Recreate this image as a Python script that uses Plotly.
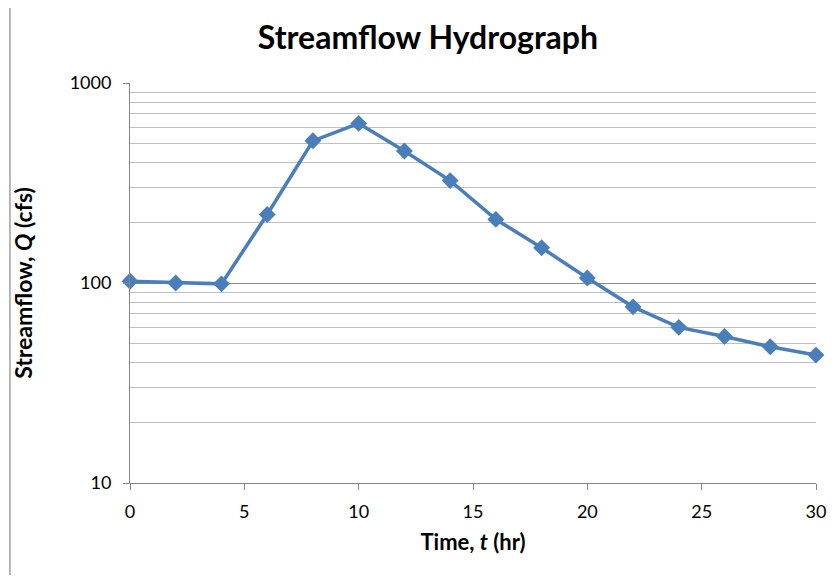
import plotly.graph_objects as go

time_hr = [0, 2, 4, 6, 8, 10, 12, 14, 16, 18, 20, 22, 24, 26, 28, 30]
flow_cfs = [102, 100, 99, 220, 514, 628, 457, 325, 208, 150, 106, 76, 60, 54, 48, 43.6]

x_ticks = [0, 5, 10, 15, 20, 25, 30]
y_ticks = [10, 100, 1000]

fig = go.Figure()
fig.add_trace(go.Scatter(
    x=time_hr, y=flow_cfs, mode="lines+markers",
    line=dict(color="#4A7EBB", width=3.5),
    marker=dict(symbol="diamond", size=13, color="#4A7EBB"),
    showlegend=False, cliponaxis=False,
))

font_family = "Lato, 'Open Sans', sans-serif"
fig.update_layout(
    width=830, height=571,
    margin=dict(l=122, r=22, t=75, b=96),
    paper_bgcolor="white", plot_bgcolor="white",
    font=dict(family=font_family, color="#000000"),
    title=dict(text="<b>Streamflow Hydrograph</b>", x=0.506, xanchor="center",
               y=0.947, yanchor="middle", font=dict(size=32, color="#000000")),
    xaxis=dict(range=[0, 30], tickvals=x_ticks, showgrid=False, zeroline=False,
               showline=True, linecolor="#868686", linewidth=1,
               ticks="outside", ticklen=6, tickcolor="#868686",
               ticklabelstandoff=6,
               tickfont=dict(size=18, color="#000000"),
               title=dict(text="<b>Time, <i>t</i> (hr)</b>", font=dict(size=22), standoff=14)),
    yaxis=dict(type="log", range=[1, 3], tickvals=y_ticks, ticktext=[str(v) for v in y_ticks],
               showgrid=True, gridcolor="#8C8C8C", gridwidth=1, zeroline=False,
               showline=True, linecolor="#868686", linewidth=1,
               ticks="outside", ticklen=6, tickcolor="#868686",
               ticklabelstandoff=8,
               tickfont=dict(size=18, color="#000000"),
               minor=dict(showgrid=True, gridcolor="#BFBFBF", gridwidth=1,
                          tickvals=[v * m for v in (10, 100) for m in range(2, 10)]),
               title=dict(text="<b>Streamflow, <i>Q</i> (cfs)</b>", font=dict(size=23), standoff=30)),
)

fig.add_shape(type="line", xref="paper", yref="paper",
              x0=-0.175, x1=-0.175, y0=-0.23, y1=1.19,
              line=dict(color="#A0A0A0", width=1.5))

fig.write_html("out.html")
